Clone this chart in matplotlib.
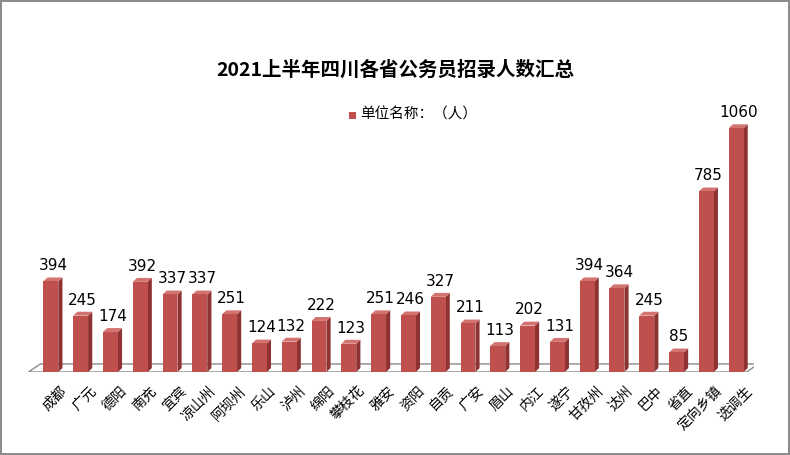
import matplotlib.pyplot as plt
from matplotlib.patches import Polygon, Rectangle

plt.rcParams['font.family'] = ['Noto Sans CJK SC', 'DejaVu Sans']

regions = ['成都', '广元', '德阳', '南充', '宜宾', '凉山州', '阿坝州', '乐山', '泸州', '绵阳',
           '攀枝花', '雅安', '资阳', '自贡', '广安', '眉山', '内江', '遂宁', '甘孜州', '达州',
           '巴中', '省直', '定向乡镇', '选调生']
counts = [394, 245, 174, 392, 337, 337, 251, 124, 132, 222,
          123, 251, 246, 327, 211, 113, 202, 131, 394, 364,
          245, 85, 785, 1060]

title = '2021上半年四川各省公务员招录人数汇总'
legend_label = '单位名称：（人）'

face = '#C0504D'
side = '#8E3331'
top = '#D37370'

fig = plt.figure(figsize=(7.9, 4.55), dpi=100)
fig.patch.set_edgecolor('#8C8C8C')
fig.patch.set_linewidth(1.5)
ax = fig.add_axes([27 / 790, 83 / 455, 727 / 790, 253 / 455])
ax.set_xlim(-0.8, 23.6)
ax.set_ylim(0, 1100)
ax.axis('off')

dx, dy = 0.14, 17
w = 0.5

# floor
floor = Polygon([(-0.75, 0), (23.35, 0), (23.35 + 0.4, 35), (-0.75 + 0.4, 35)],
                closed=True, facecolor='white', edgecolor='#8A8A8A', lw=1.0, zorder=1)
ax.add_patch(floor)

for i, v in enumerate(counts):
    x0 = i - w / 2
    ax.add_patch(Polygon([(x0 + w, 0), (x0 + w + dx, dy), (x0 + w + dx, v + dy), (x0 + w, v)],
                         closed=True, facecolor=side, edgecolor='none', zorder=2))
    ax.add_patch(Polygon([(x0, v), (x0 + dx, v + dy), (x0 + w + dx, v + dy), (x0 + w, v)],
                         closed=True, facecolor=top, edgecolor='none', zorder=2))
    ax.add_patch(Rectangle((x0, 0), w, v, facecolor=face, edgecolor='none', zorder=3))
    ax.annotate(str(v), (i + dx / 2, v + dy), xytext=(0, 3), textcoords='offset points',
                ha='center', va='bottom', fontsize=11, family='DejaVu Sans', zorder=4)
    ax.text(i + 0.3, -50, regions[i], rotation=45, ha='right', va='top',
            fontsize=10, rotation_mode='anchor', zorder=4)

fig.text(0.5, 1 - 70 / 455, title, ha='center', va='center', fontsize=14, fontweight='bold')
fig.patches.append(Rectangle((349 / 790, 1 - 119 / 455), 7 / 790, 7 / 455,
                             transform=fig.transFigure, facecolor=face, edgecolor='none'))
fig.text(360 / 790, 1 - 115 / 455, legend_label, ha='left', va='center', fontsize=10.5)

fig.savefig('out.png', dpi=100)
